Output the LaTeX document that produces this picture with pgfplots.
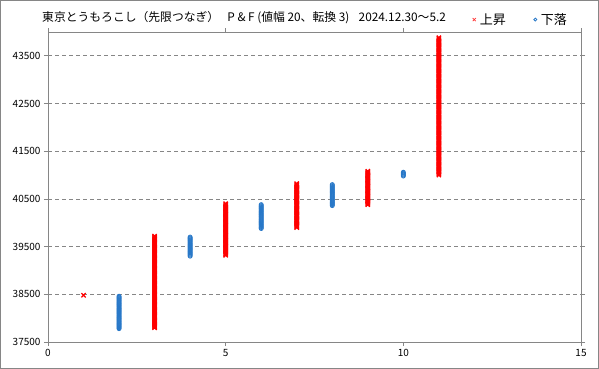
\documentclass[border=0pt]{standalone}
\usepackage{fontspec}
\setmainfont{Noto Sans CJK JP}
\usepackage{pgfplots}
\pgfplotsset{compat=1.18}
\definecolor{xred}{RGB}{255,0,0}
\definecolor{oblue}{RGB}{40,120,200}
\definecolor{axgray}{RGB}{134,134,134}
\begin{document}
\begin{tikzpicture}
\useasboundingbox (0,0) rectangle (599pt,369pt);
\draw[axgray,line width=1pt] (0.5pt,0.5pt) rectangle (598.5pt,368.5pt);
\begin{axis}[
  at={(48pt,27pt)}, anchor=south west,
  scale only axis, width=533pt, height=310pt,
  xmin=0, xmax=15, ymin=37500, ymax=44000,
  xtick={0,5,10,15},
  ytick={37500,38500,39500,40500,41500,42500,43500},
  scaled y ticks=false, scaled x ticks=false,
  ymajorgrids, grid style={axgray, dash pattern=on 4pt off 3pt, line width=0.8pt},
  axis line style={axgray, line width=0.8pt},
  tick style={axgray, line width=0.8pt},
  tick align=outside, major tick length=4pt,
  ticklabel style={font=\fontsize{10}{12}\selectfont, text=black},
  /pgf/number format/assume math mode=true,
  /pgf/number format/1000 sep={},
  clip=false,
  legend columns=2,
  legend style={at={(1,1)}, anchor=south east, xshift=-9pt, yshift=2pt, draw=none, fill=none,
     font=\fontsize{13}{15}\selectfont,
     /tikz/every odd column/.append style={column sep=2pt},
     /tikz/every even column/.append style={column sep=26pt}},
]
% X (rising) columns
\addplot[only marks, mark=x, mark size=3pt, xred, mark options={line width=1.3pt},
  legend image post style={mark size=2.2pt, mark options={line width=0.7pt, xred!80}}] coordinates {
(1,38480)
(3,37800)(3,37820)(3,37840)(3,37860)(3,37880)(3,37900)(3,37920)(3,37940)(3,37960)(3,37980)
(3,38000)(3,38020)(3,38040)(3,38060)(3,38080)(3,38100)(3,38120)(3,38140)(3,38160)(3,38180)
(3,38200)(3,38220)(3,38240)(3,38260)(3,38280)(3,38300)(3,38320)(3,38340)(3,38360)(3,38380)
(3,38400)(3,38420)(3,38440)(3,38460)(3,38480)(3,38500)(3,38520)(3,38540)(3,38560)(3,38580)
(3,38600)(3,38620)(3,38640)(3,38660)(3,38680)(3,38700)(3,38720)(3,38740)(3,38760)(3,38780)
(3,38800)(3,38820)(3,38840)(3,38860)(3,38880)(3,38900)(3,38920)(3,38940)(3,38960)(3,38980)
(3,39000)(3,39020)(3,39040)(3,39060)(3,39080)(3,39100)(3,39120)(3,39140)(3,39160)(3,39180)
(3,39200)(3,39220)(3,39240)(3,39260)(3,39280)(3,39300)(3,39320)(3,39340)(3,39360)(3,39380)
(3,39400)(3,39420)(3,39440)(3,39460)(3,39480)(3,39500)(3,39520)(3,39540)(3,39560)(3,39580)
(3,39600)(3,39620)(3,39640)(3,39660)(3,39680)(3,39700)(3,39720)
(5,39320)(5,39340)(5,39360)(5,39380)
(5,39400)(5,39420)(5,39440)(5,39460)(5,39480)(5,39500)(5,39520)(5,39540)(5,39560)(5,39580)
(5,39600)(5,39620)(5,39640)(5,39660)(5,39680)(5,39700)(5,39720)(5,39740)(5,39760)(5,39780)
(5,39800)(5,39820)(5,39840)(5,39860)(5,39880)(5,39900)(5,39920)(5,39940)(5,39960)(5,39980)
(5,40000)(5,40020)(5,40040)(5,40060)(5,40080)(5,40100)(5,40120)(5,40140)(5,40160)(5,40180)
(5,40200)(5,40220)(5,40240)(5,40260)(5,40280)(5,40300)(5,40320)(5,40340)(5,40360)(5,40380)
(5,40400)
(7,39900)(7,39920)(7,39940)(7,39960)(7,39980)
(7,40000)(7,40020)(7,40040)(7,40060)(7,40080)(7,40100)(7,40120)(7,40140)(7,40160)(7,40180)
(7,40200)(7,40220)(7,40240)(7,40260)(7,40280)(7,40300)(7,40320)(7,40340)(7,40360)(7,40380)
(7,40400)(7,40420)(7,40440)(7,40460)(7,40480)(7,40500)(7,40520)(7,40540)(7,40560)(7,40580)
(7,40600)(7,40620)(7,40640)(7,40660)(7,40680)(7,40700)(7,40720)(7,40740)(7,40760)(7,40780)
(7,40800)(7,40820)
(9,40380)
(9,40400)(9,40420)(9,40440)(9,40460)(9,40480)(9,40500)(9,40520)(9,40540)(9,40560)(9,40580)
(9,40600)(9,40620)(9,40640)(9,40660)(9,40680)(9,40700)(9,40720)(9,40740)(9,40760)(9,40780)
(9,40800)(9,40820)(9,40840)(9,40860)(9,40880)(9,40900)(9,40920)(9,40940)(9,40960)(9,40980)
(9,41000)(9,41020)(9,41040)(9,41060)(9,41080)
(11,41000)(11,41020)(11,41040)(11,41060)(11,41080)(11,41100)(11,41120)(11,41140)(11,41160)(11,41180)
(11,41200)(11,41220)(11,41240)(11,41260)(11,41280)(11,41300)(11,41320)(11,41340)(11,41360)(11,41380)
(11,41400)(11,41420)(11,41440)(11,41460)(11,41480)(11,41500)(11,41520)(11,41540)(11,41560)(11,41580)
(11,41600)(11,41620)(11,41640)(11,41660)(11,41680)(11,41700)(11,41720)(11,41740)(11,41760)(11,41780)
(11,41800)(11,41820)(11,41840)(11,41860)(11,41880)(11,41900)(11,41920)(11,41940)(11,41960)(11,41980)
(11,42000)(11,42020)(11,42040)(11,42060)(11,42080)(11,42100)(11,42120)(11,42140)(11,42160)(11,42180)
(11,42200)(11,42220)(11,42240)(11,42260)(11,42280)(11,42300)(11,42320)(11,42340)(11,42360)(11,42380)
(11,42400)(11,42420)(11,42440)(11,42460)(11,42480)(11,42500)(11,42520)(11,42540)(11,42560)(11,42580)
(11,42600)(11,42620)(11,42640)(11,42660)(11,42680)(11,42700)(11,42720)(11,42740)(11,42760)(11,42780)
(11,42800)(11,42820)(11,42840)(11,42860)(11,42880)(11,42900)(11,42920)(11,42940)(11,42960)(11,42980)
(11,43000)(11,43020)(11,43040)(11,43060)(11,43080)(11,43100)(11,43120)(11,43140)(11,43160)(11,43180)
(11,43200)(11,43220)(11,43240)(11,43260)(11,43280)(11,43300)(11,43320)(11,43340)(11,43360)(11,43380)
(11,43400)(11,43420)(11,43440)(11,43460)(11,43480)(11,43500)(11,43520)(11,43540)(11,43560)(11,43580)
(11,43600)(11,43620)(11,43640)(11,43660)(11,43680)(11,43700)(11,43720)(11,43740)(11,43760)(11,43780)
(11,43800)(11,43820)(11,43840)(11,43860)(11,43880)
};
\addlegendentry{上昇}
% O (falling) columns
\addplot[only marks, mark=o, mark size=2pt, oblue, mark options={line width=0.9pt},
  legend image post style={mark size=1.5pt, mark options={line width=0.8pt}}] coordinates {
(2,37780)
(2,37800)(2,37820)(2,37840)(2,37860)(2,37880)(2,37900)(2,37920)(2,37940)(2,37960)(2,37980)
(2,38000)(2,38020)(2,38040)(2,38060)(2,38080)(2,38100)(2,38120)(2,38140)(2,38160)(2,38180)
(2,38200)(2,38220)(2,38240)(2,38260)(2,38280)(2,38300)(2,38320)(2,38340)(2,38360)(2,38380)
(2,38400)(2,38420)(2,38440)(2,38460)
(4,39300)(4,39320)(4,39340)(4,39360)(4,39380)(4,39400)(4,39420)(4,39440)(4,39460)(4,39480)
(4,39500)(4,39520)(4,39540)(4,39560)(4,39580)(4,39600)(4,39620)(4,39640)(4,39660)(4,39680)
(4,39700)
(6,39880)
(6,39900)(6,39920)(6,39940)(6,39960)(6,39980)(6,40000)(6,40020)(6,40040)(6,40060)(6,40080)
(6,40100)(6,40120)(6,40140)(6,40160)(6,40180)(6,40200)(6,40220)(6,40240)(6,40260)(6,40280)
(6,40300)(6,40320)(6,40340)(6,40360)(6,40380)
(8,40360)(8,40380)
(8,40400)(8,40420)(8,40440)(8,40460)(8,40480)(8,40500)(8,40520)(8,40540)(8,40560)(8,40580)
(8,40600)(8,40620)(8,40640)(8,40660)(8,40680)(8,40700)(8,40720)(8,40740)(8,40760)(8,40780)
(8,40800)
(10,40980)(10,41000)(10,41020)(10,41040)(10,41060)
};
\addlegendentry{下落}
\end{axis}
\node[anchor=west, font=\fontsize{11.8}{13}\selectfont, inner sep=0pt] at (42pt,351pt)
  {東京とうもろこし（先限つなぎ）\hspace{0.7em}P \& F (値幅 20、転換 3)\hspace{0.8em}2024.12.30〜5.2};
\end{tikzpicture}
\end{document}
